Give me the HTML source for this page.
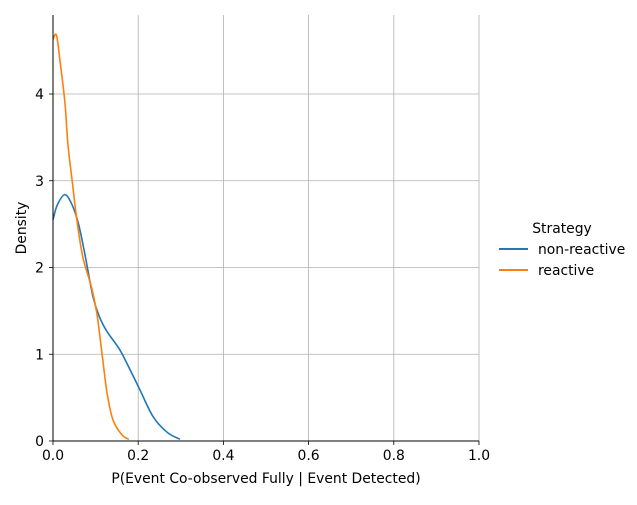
<!DOCTYPE html>
<html><head><meta charset="utf-8"><style>
html,body{margin:0;padding:0;background:#fff;}
svg text{font-family:"DejaVu Sans","Liberation Sans",sans-serif;}
</style></head><body>
<svg id="chart" width="637" height="500" xmlns="http://www.w3.org/2000/svg">
<g id="grid"></g>
<g id="curves"></g>
<g id="axes"></g>
<text x="266" y="483" font-size="13.9" text-anchor="middle" fill="#000">P(Event Co-observed Fully | Event Detected)</text>
<text transform="translate(26,228) rotate(-90)" font-size="13.9" text-anchor="middle" fill="#000">Density</text>
<g>
<text x="562" y="233" font-size="13.9" text-anchor="middle">Strategy</text>
<g><line x1="499" y1="249" x2="528" y2="249" stroke="#1f77b4" stroke-width="2"/><text x="538" y="254" font-size="13.9">non-reactive</text></g>
<g><line x1="499" y1="270" x2="528" y2="270" stroke="#ff7f0e" stroke-width="2"/><text x="538" y="275" font-size="13.9">reactive</text></g>
</g>
</svg>
<script>
const xTicks=[0,0.2,0.4,0.6,0.8,1.0];
const xTickLabels=["0.0","0.2","0.4","0.6","0.8","1.0"];
const yTicks=[0,1,2,3,4];
const blueX=[0,0.01,0.028,0.045,0.06,0.075,0.094,0.11,0.127,0.157,0.181,0.204,0.235,0.268,0.298];
const blueY=[2.55,2.72,2.84,2.72,2.5,2.15,1.66,1.42,1.26,1.05,0.82,0.59,0.28,0.10,0.02];
const orangeX=[0,0.008,0.016,0.028,0.035,0.045,0.056,0.07,0.09,0.103,0.115,0.127,0.141,0.162,0.178];
const orangeY=[4.63,4.68,4.4,3.9,3.42,3.0,2.55,2.12,1.78,1.47,1.01,0.55,0.24,0.07,0.02];
const NS="http://www.w3.org/2000/svg";
const L=53,R=479,T=15,B=441;
const sx=v=>L+(R-L)*v;
const sy=v=>B-86.75*v;
function mk(tag,attrs,parent){const e=document.createElementNS(NS,tag);for(const k in attrs)e.setAttribute(k,attrs[k]);parent.appendChild(e);return e;}
const grid=document.getElementById('grid'),axes=document.getElementById('axes'),curves=document.getElementById('curves');
xTicks.forEach((t,i)=>{
 const g=mk('line',{x1:sx(t),x2:sx(t),y1:T,y2:B,stroke:'#b0b0b0','stroke-width':0.8},grid);
 
 
 mk('line',{x1:sx(t),x2:sx(t),y1:B,y2:B+4,stroke:'#000','stroke-width':0.8},axes);
 const tx=mk('text',{x:sx(t),y:B+19,'font-size':13.9,'text-anchor':'middle'},axes);tx.textContent=xTickLabels[i];
 
 
});
yTicks.forEach(t=>{
 const g=mk('line',{x1:L,x2:R,y1:sy(t),y2:sy(t),stroke:'#b0b0b0','stroke-width':0.8},grid);
 
 
 mk('line',{x1:L-4,x2:L,y1:sy(t),y2:sy(t),stroke:'#000','stroke-width':0.8},axes);
 const tx=mk('text',{x:L-9,y:sy(t)+5,'font-size':13.9,'text-anchor':'end'},axes);tx.textContent=String(t);
 
 
});
mk('line',{x1:L,x2:L,y1:T,y2:B,stroke:'#000','stroke-width':1},axes);
mk('line',{x1:L,x2:R,y1:B,y2:B,stroke:'#000','stroke-width':1},axes);
function curve(xs,ys,color,name){
 const p=xs.map((x,i)=>[sx(x),sy(ys[i])]);
 let d='M'+p[0][0]+','+p[0][1];
 for(let i=0;i<p.length-1;i++){
  const p0=p[i-1]||p[i],p1=p[i],p2=p[i+1],p3=p[i+2]||p2;
  const c1=[p1[0]+(p2[0]-p0[0])/6,p1[1]+(p2[1]-p0[1])/6];
  const c2=[p2[0]-(p3[0]-p1[0])/6,p2[1]-(p3[1]-p1[1])/6];
  d+=` C${c1[0]},${c1[1]} ${c2[0]},${c2[1]} ${p2[0]},${p2[1]}`;
 }
 const e=mk('path',{d:d,fill:'none',stroke:color,'stroke-width':1.6},curves);
 
 
}
curve(blueX,blueY,'#1f77b4','non-reactive-kde-line');
curve(orangeX,orangeY,'#ff7f0e','reactive-kde-line');
</script>
</body></html>
